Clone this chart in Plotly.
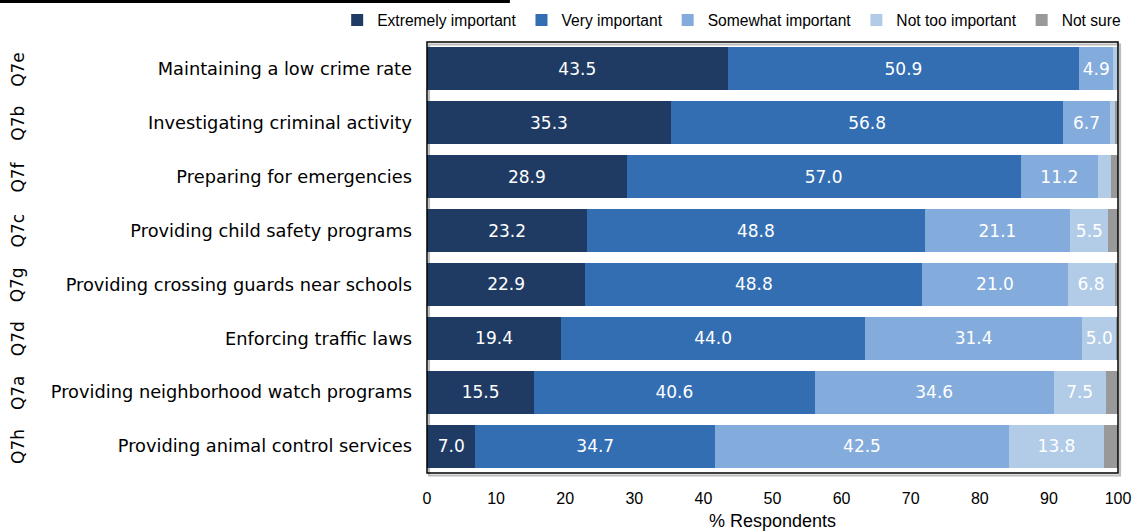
import plotly.graph_objects as go

# Survey items, top to bottom
codes = ["Q7e", "Q7b", "Q7f", "Q7c", "Q7g", "Q7d", "Q7a", "Q7h"]
items = [
    "Maintaining a low crime rate",
    "Investigating criminal activity",
    "Preparing for emergencies",
    "Providing child safety programs",
    "Providing crossing guards near schools",
    "Enforcing traffic laws",
    "Providing neighborhood watch programs",
    "Providing animal control services",
]

# Percent of respondents by rating
extremely = [43.5, 35.3, 28.9, 23.2, 22.9, 19.4, 15.5, 7.0]
very = [50.9, 56.8, 57.0, 48.8, 48.8, 44.0, 40.6, 34.7]
somewhat = [4.9, 6.7, 11.2, 21.1, 21.0, 31.4, 34.6, 42.5]
not_too = [0.7, 0.7, 1.9, 5.5, 6.8, 5.0, 7.5, 13.8]
not_sure = [0.0, 0.5, 1.0, 1.4, 0.5, 0.2, 1.8, 2.0]

series = [
    ("Extremely important", extremely, "#1f3b63"),
    ("Very important", very, "#336eb3"),
    ("Somewhat important", somewhat, "#83abdc"),
    ("Not too important", not_too, "#b2cce8"),
    ("Not sure", not_sure, "#999999"),
]

FONT = "DejaVu Sans"
NARROW = "Liberation Sans, Arial, sans-serif"

fig = go.Figure()
for name, vals, color in series:
    labels = [f"{v:.1f}" if v >= 4 else "" for v in vals]
    fig.add_trace(go.Bar(
        name=name, y=items, x=vals, orientation="h",
        marker=dict(color=color, line=dict(width=0)),
        text=labels, textposition="inside", insidetextanchor="middle",
        textfont=dict(color="white", size=17, family=FONT),
        textangle=0, hoverinfo="x+name",
    ))

# Question codes along the left edge
for code, item in zip(codes, items):
    fig.add_annotation(
        x=-0.592, xref="paper", xanchor="center", y=item, yref="y", yanchor="middle",
        text=code, textangle=-90, showarrow=False,
        font=dict(size=17, family=FONT, color="black"),
    )

# Frame around the plotting area
fig.add_shape(type="rect", xref="paper", yref="paper", x0=0.003, y0=-0.006,
              x1=1.003, y1=0.994, line=dict(color="#bbbbbb", width=2), layer="below")
fig.add_shape(type="rect", xref="paper", yref="paper", x0=0, y0=0,
              x1=1, y1=1, line=dict(color="black", width=1.5))

# Heavy rule at the top-left
fig.add_shape(type="line", xref="paper", yref="paper", x0=-0.62, x1=0.12,
              y0=1.094, y1=1.094, line=dict(color="black", width=3))

fig.update_layout(
    width=1137, height=531,
    margin=dict(l=427, r=19, t=42, b=58, autoexpand=False),
    barmode="stack", bargap=0.2,
    plot_bgcolor="white", paper_bgcolor="white",
    font=dict(family=FONT, size=15, color="black"),
    showlegend=True,
    legend=dict(orientation="h", xref="paper", yref="paper",
                x=-0.13, xanchor="left", y=1.05, yanchor="middle",
                font=dict(size=15.6, family=NARROW), itemwidth=30,
                traceorder="normal", tracegroupgap=0, itemclick=False,
                bgcolor="rgba(0,0,0,0)"),
    xaxis=dict(range=[0, 100], dtick=10, showgrid=False, zeroline=False,
               showline=False, ticks="", ticklabelstandoff=14,
               tickfont=dict(size=16, family=NARROW),
               title=dict(text="% Respondents", font=dict(size=18, family=NARROW),
                          standoff=8)),
    yaxis=dict(categoryorder="array", categoryarray=items, autorange="reversed",
               showgrid=False, showline=False, ticks="", ticklabelstandoff=14,
               tickfont=dict(size=17.8)),
    uniformtext=dict(mode="show", minsize=10),
)

fig.write_html("out.html")
